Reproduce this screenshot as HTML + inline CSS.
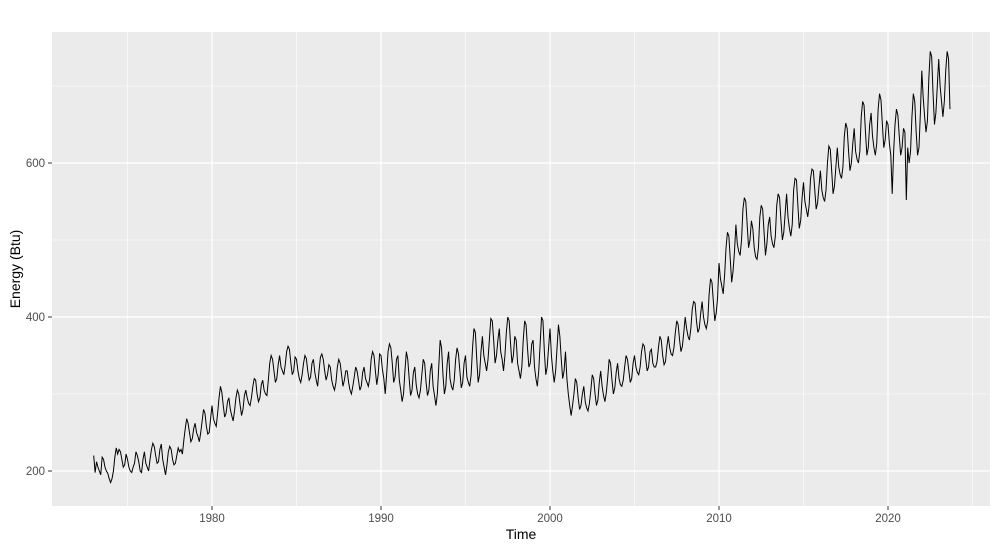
<!DOCTYPE html>
<html><head><meta charset="utf-8"><style>
body{margin:0;background:#fff;}
svg{display:block;font-family:"Liberation Sans",Arial,sans-serif;}
</style></head><body>
<svg id="chart" width="1000" height="549">
<rect x="52" y="32" width="938" height="474" fill="#ebebeb"/>
<g id="grid"></g>
<path id="line" fill="none" stroke="#000" stroke-width="1"/>
<g id="axes"></g>
<text x="521" y="539" text-anchor="middle" font-size="14" fill="#000">Time</text>
<text transform="translate(20,269) rotate(-90)" text-anchor="middle" font-size="14" fill="#000">Energy (Btu)</text>
</svg>
<script>
const startYear = 1973;
const xTicks = [1980, 1990, 2000, 2010, 2020];
const xMinor = [1975, 1985, 1995, 2005, 2015, 2025];
const yTicks = [200, 400, 600];
const yMinor = [300, 500, 700];
const values = [
220,198,212,205,200,195,218,215,205,200,197,190,
185,190,200,218,230,222,228,225,215,205,208,222,
215,205,200,198,205,210,225,220,212,200,198,215,
225,210,205,200,215,228,236,232,220,210,212,228,
235,215,205,195,208,225,232,228,215,208,210,220,
230,225,228,222,240,255,268,262,250,238,242,255,
262,250,245,238,250,265,280,275,258,248,250,268,
285,268,262,258,275,295,310,302,285,270,275,290,
295,280,272,265,278,295,305,300,285,272,280,298,
305,295,288,285,295,310,320,318,300,290,295,312,
318,305,300,298,318,340,350,345,330,315,320,338,
350,335,330,325,338,355,362,358,340,325,330,348,
345,330,320,315,325,340,350,346,330,318,322,340,
345,328,318,310,330,348,352,345,330,318,325,338,
335,318,310,305,315,335,345,340,325,310,318,330,
330,315,305,300,310,322,335,330,318,305,310,328,
335,320,315,310,320,345,355,350,330,312,325,352,
350,332,320,300,325,355,365,360,340,315,322,345,
350,318,305,290,300,330,355,345,320,298,305,328,
335,312,300,295,305,325,345,340,315,298,305,330,
340,310,298,285,300,335,370,360,325,300,310,340,
355,320,310,305,318,345,360,352,330,308,315,340,
350,322,315,310,325,360,385,380,345,315,325,355,
375,350,340,330,345,372,398,395,370,340,350,370,
385,355,345,330,350,380,400,395,365,340,350,375,
370,340,330,320,335,370,395,390,360,335,340,365,
370,335,320,310,330,365,400,395,355,325,335,360,
385,350,330,315,330,360,390,375,345,320,330,355,
320,300,285,272,285,300,320,315,295,280,285,300,
310,290,282,278,288,305,325,320,300,285,292,315,
330,310,298,290,302,322,345,340,318,300,308,328,
340,320,312,310,318,335,350,345,330,315,320,340,
350,335,328,325,335,355,365,362,345,330,335,355,
358,340,335,335,342,360,375,370,350,338,342,362,
375,360,352,350,360,380,395,390,370,355,362,380,
400,385,375,370,385,410,420,418,395,380,385,405,
420,400,390,385,395,430,450,445,420,395,405,425,
470,450,440,430,455,490,510,505,475,445,460,485,
520,495,485,480,500,540,555,550,520,490,500,525,
515,490,478,475,490,530,545,540,510,480,495,520,
530,505,495,490,505,545,560,555,525,500,510,535,
560,530,515,505,520,565,580,578,545,515,525,555,
575,550,540,530,545,580,592,590,565,540,548,570,
590,565,555,550,565,600,622,618,590,560,570,595,
620,595,585,580,595,635,652,645,615,590,600,625,
645,615,605,600,615,660,680,675,640,610,620,650,
665,635,620,610,625,670,690,682,650,620,630,655,
650,625,610,560,615,650,670,662,635,610,620,645,
640,552,620,600,615,660,690,680,640,610,620,665,
720,685,660,640,655,710,745,738,690,650,665,700,
735,700,680,660,680,720,745,735,670
];
const X = t => 212 + (t - 1980) * 16.9;
const Y = v => 471 - (v - 200) * 0.77;
const NS = "http://www.w3.org/2000/svg";
const grid = document.getElementById('grid');
const axes = document.getElementById('axes');
function ln(p, x1, y1, x2, y2, c, w) {
  const l = document.createElementNS(NS, 'line');
  l.setAttribute('x1', x1); l.setAttribute('y1', y1);
  l.setAttribute('x2', x2); l.setAttribute('y2', y2);
  l.setAttribute('stroke', c); l.setAttribute('stroke-width', w);
  p.appendChild(l); return l;
}
function tx(p, x, y, s, anchor) {
  const t = document.createElementNS(NS, 'text');
  t.setAttribute('x', x); t.setAttribute('y', y);
  t.setAttribute('text-anchor', anchor); t.setAttribute('font-size', '11.5');
  t.setAttribute('fill', '#4d4d4d'); t.textContent = s;
  p.appendChild(t); return t;
}
yMinor.forEach(v => {
  const l = ln(grid, 52, Y(v), 990, Y(v), '#fff', 0.6);
  
  
});
xMinor.forEach(v => {
  const l = ln(grid, X(v), 32, X(v), 506, '#fff', 0.6);
  
  
});
yTicks.forEach(v => {
  const l = ln(grid, 52, Y(v), 990, Y(v), '#fff', 1.2);
  
  
  const tk = ln(axes, 48, Y(v), 52, Y(v), '#333', 1);
  
  
  const t = tx(axes, 45, Y(v) + 4, String(v), 'end');
  
  
});
xTicks.forEach(v => {
  const l = ln(grid, X(v), 32, X(v), 506, '#fff', 1.2);
  
  
  const tk = ln(axes, X(v), 506, X(v), 510, '#333', 1);
  
  
  const t = tx(axes, X(v), 522, String(v), 'middle');
  
  
});
let d = '';
values.forEach((v, i) => {
  d += (i ? 'L' : 'M') + X(startYear + i / 12).toFixed(2) + ',' + Y(v).toFixed(2);
});
document.getElementById('line').setAttribute('d', d);
</script>
</body></html>
